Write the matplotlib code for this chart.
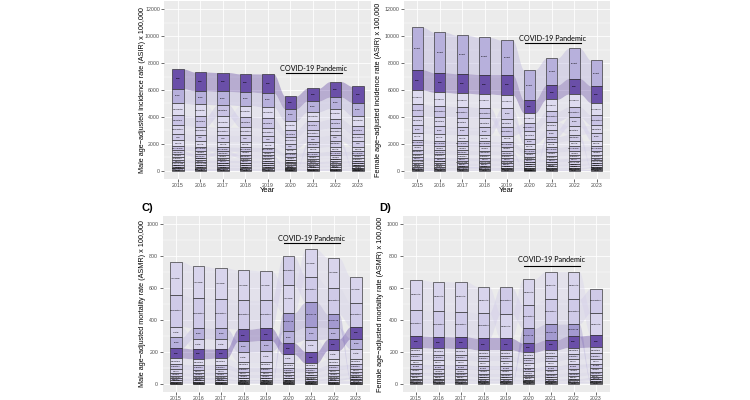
import matplotlib.pyplot as plt
import numpy as np
from matplotlib.ticker import MultipleLocator

plt.rcParams['font.family'] = ['Liberation Sans', 'DejaVu Sans']

years = [2015, 2016, 2017, 2018, 2019, 2020, 2021, 2022, 2023]

# --- A) male incidence ---
inc_male_names = ["Skin", "Lung", "Colorectal", "Digestive", "Respiratory", "Oral",
                  "Mental", "Musculosk.", "Injuries", "Infections", "Diabetes", "Neuro",
                  "Sense org.", "Urinary", "Cardio", "Substance", "Endocrine", "Other"]
inc_male = [
    [1450, 1400, 1400, 1350, 1400, 950, 950, 1150, 1200],
    [1080, 1000, 1000, 1000, 1050, 900, 800, 850, 1000],
    [900, 880, 800, 850, 830, 700, 700, 780, 700],
    [740, 760, 860, 760, 740, 520, 620, 660, 640],
    [620, 600, 590, 600, 590, 450, 500, 520, 500],
    [500, 490, 480, 480, 470, 380, 420, 430, 420],
    [420, 410, 400, 400, 390, 330, 350, 360, 350],
    [320, 310, 310, 300, 300, 260, 290, 300, 280],
    [250, 250, 240, 250, 240, 220, 230, 240, 230],
    [250, 240, 240, 240, 230, 40, 400, 420, 60],
    [200, 195, 190, 190, 185, 150, 170, 175, 170],
    [175, 170, 170, 165, 165, 140, 150, 160, 155],
    [170, 165, 160, 160, 160, 130, 140, 150, 145],
    [150, 145, 145, 140, 140, 120, 130, 135, 130],
    [125, 120, 120, 120, 115, 100, 110, 115, 110],
    [100, 95, 95, 95, 90, 80, 85, 90, 85],
    [60, 60, 55, 55, 55, 45, 50, 50, 50],
    [40, 40, 40, 40, 40, 35, 35, 35, 35],
]

# --- B) female incidence ---
inc_female_names = ["Breast", "Skin", "Gynaecol.", "Respiratory", "Digestive", "Lung",
                    "Mental", "Musculosk.", "Injuries", "Infections", "Diabetes", "Neuro",
                    "Sense org.", "Urinary", "Cardio", "Substance", "Endocrine", "Other"]
inc_female = [
    [3150, 3000, 2850, 2750, 2550, 2250, 2000, 2250, 1900],
    [1500, 1450, 1450, 1450, 1500, 950, 1050, 1150, 1250],
    [1050, 1000, 1000, 1000, 1000, 750, 900, 950, 900],
    [850, 830, 820, 800, 620, 600, 750, 770, 750],
    [700, 690, 680, 670, 620, 550, 600, 630, 600],
    [600, 590, 580, 570, 800, 420, 520, 650, 540],
    [480, 470, 460, 460, 450, 360, 400, 420, 410],
    [400, 390, 380, 380, 370, 300, 340, 360, 350],
    [330, 320, 320, 320, 310, 260, 290, 300, 290],
    [300, 290, 290, 280, 280, 40, 400, 450, 90],
    [260, 255, 250, 250, 245, 200, 225, 235, 225],
    [230, 225, 220, 220, 215, 180, 200, 210, 200],
    [200, 195, 190, 190, 185, 160, 175, 185, 175],
    [170, 165, 165, 160, 160, 140, 150, 160, 150],
    [150, 145, 145, 140, 140, 120, 130, 135, 130],
    [120, 115, 115, 115, 110, 95, 105, 110, 105],
    [90, 85, 85, 85, 85, 70, 75, 80, 75],
    [60, 60, 55, 55, 55, 45, 50, 50, 50],
]

# --- C) male mortality ---
mort_male_names = ["Ischemic", "Respiratory", "COVID-19", "Lung", "Cystic", "Skin",
                   "Digestive", "Diabetes", "Neuro", "Injuries", "Infections", "Urinary",
                   "Mental", "Endocrine", "Substance", "Other"]
mort_male = [
    [208, 200, 191, 189, 185, 175, 170, 185, 162],
    [198, 187, 187, 181, 173, 177, 160, 167, 150],
    [0, 0, 0, 0, 0, 114, 156, 83, 10],
    [66, 68, 68, 68, 68, 75, 78, 72, 64],
    [68, 63, 60, 62, 67, 52, 75, 55, 60],
    [63, 62, 58, 75, 77, 70, 72, 70, 75],
    [40, 38, 40, 35, 35, 33, 30, 38, 36],
    [30, 29, 30, 27, 27, 26, 24, 28, 28],
    [24, 23, 24, 20, 20, 20, 18, 22, 22],
    [18, 18, 18, 15, 15, 15, 15, 18, 17],
    [14, 14, 14, 12, 12, 12, 12, 14, 13],
    [12, 11, 11, 9, 9, 9, 10, 12, 11],
    [9, 9, 9, 7, 7, 7, 8, 9, 8],
    [7, 7, 7, 5, 5, 5, 6, 7, 6],
    [5, 5, 5, 4, 4, 4, 4, 5, 5],
    [3, 3, 3, 3, 3, 3, 3, 3, 3],
]

# --- D) female mortality ---
mort_female_names = ["Dementia", "Respiratory", "COVID-19", "Skin", "Digestive", "Diabetes",
                     "Neuro", "Breast", "Injuries", "Infections", "Urinary", "Mental",
                     "Endocrine", "Substance", "Other"]
mort_female = [
    [186, 185, 185, 165, 155, 163, 169, 173, 140],
    [165, 159, 159, 158, 165, 145, 159, 155, 150],
    [0, 0, 0, 0, 0, 92, 99, 75, 8],
    [72, 72, 72, 72, 72, 58, 62, 72, 75],
    [40, 40, 40, 38, 38, 36, 38, 38, 38],
    [35, 34, 34, 33, 33, 31, 33, 35, 34],
    [30, 30, 29, 29, 29, 27, 29, 31, 30],
    [28, 27, 27, 26, 26, 24, 26, 28, 27],
    [25, 24, 24, 23, 23, 21, 23, 25, 24],
    [20, 20, 19, 19, 19, 17, 19, 21, 20],
    [15, 15, 15, 14, 14, 13, 14, 16, 15],
    [12, 12, 12, 11, 11, 10, 11, 12, 12],
    [10, 10, 10, 9, 9, 8, 9, 10, 10],
    [7, 7, 7, 6, 6, 6, 6, 7, 7],
    [5, 5, 5, 5, 5, 4, 5, 5, 5],
]

DARK = '#6a4fa8'
MED = '#b7b0dc'
COV = '#a39ad0'
LIGHTS = ['#d8d4ec', '#cfcae8', '#dedbf0', '#c9c3e5']


def colors_for(names, dark="Skin", med=(), cov="COVID-19"):
    cols = []
    for k, n in enumerate(names):
        if n == dark:
            cols.append(DARK)
        elif n == cov:
            cols.append(COV)
        elif n in med:
            cols.append(MED)
        else:
            cols.append(LIGHTS[k % len(LIGHTS)])
    return cols


def alluvial(ax, names, values, cols, w=0.5):
    v = np.array(values, dtype=float)
    ncat, ny = v.shape
    bot = np.zeros_like(v)
    for j in range(ny):
        order = np.argsort(v[:, j], kind='stable')  # smallest at bottom
        acc = 0.0
        for i in order:
            bot[i, j] = acc
            acc += v[i, j]
    top = bot + v
    t = np.linspace(0, 1, 40)
    s = t * t * (3 - 2 * t)
    for i in range(ncat):
        for j in range(ny - 1):
            if v[i, j] == 0 and v[i, j + 1] == 0:
                continue
            x0 = years[j] + w / 2
            x1 = years[j + 1] - w / 2
            xs = x0 + (x1 - x0) * t
            yb = bot[i, j] + (bot[i, j + 1] - bot[i, j]) * s
            yt = top[i, j] + (top[i, j + 1] - top[i, j]) * s
            ax.fill_between(xs, yb, yt, color=cols[i], alpha=0.4, lw=0, zorder=2)
    cols = np.array(cols)
    for j in range(ny):
        keep = v[:, j] > 0
        ax.bar([years[j]] * keep.sum(), v[keep, j], bottom=bot[keep, j],
               width=w, color=cols[keep], edgecolor='#2a2a2a', linewidth=0.45,
               zorder=3)
        for i in np.where(keep)[0]:
            ax.text(years[j], bot[i, j] + v[i, j] / 2, names[i], fontsize=1.7,
                    ha='center', va='center', color='black', zorder=4)


def style(ax, ymax, step, minor):
    ax.set_facecolor('#EBEBEB')
    ax.set_axisbelow(True)
    for sp in ax.spines.values():
        sp.set_visible(False)
    ax.set_xlim(2014.4, 2023.6)
    ax.set_ylim(-0.05 * ymax, 1.05 * ymax)
    ax.set_xticks(years)
    ax.set_xticklabels([str(y) for y in years])
    ax.yaxis.set_major_locator(MultipleLocator(step))
    ax.yaxis.set_minor_locator(MultipleLocator(minor))
    ax.grid(which='major', color='white', lw=0.6)
    ax.grid(which='minor', axis='y', color='white', lw=0.3)
    ax.tick_params(which='major', length=2, width=0.5, color='#333333',
                   labelsize=3.8, labelcolor='#4d4d4d', pad=1.2)
    ax.tick_params(which='minor', length=0)


def covid(ax, yline, ytext):
    ax.plot([2019.78, 2022.3], [yline, yline], color='black', lw=0.8, zorder=5)
    ax.text(2021.04, ytext, "COVID-19 Pandemic", fontsize=5.2, family='Lato',
            ha='center', va='center', zorder=5)


fig = plt.figure(figsize=(7.5, 4), dpi=100)

axA = fig.add_axes([0.2193, 0.5525, 0.276, 0.445])
axB = fig.add_axes([0.5387, 0.5525, 0.2747, 0.445])
axC = fig.add_axes([0.2167, 0.02, 0.276, 0.44])
axD = fig.add_axes([0.5367, 0.02, 0.276, 0.44])

alluvial(axA, inc_male_names, inc_male, colors_for(inc_male_names, med=("Lung",)))
alluvial(axB, inc_female_names, inc_female, colors_for(inc_female_names, med=("Breast",)))
alluvial(axC, mort_male_names, mort_male, colors_for(mort_male_names, med=("Lung",)))
alluvial(axD, mort_female_names, mort_female, colors_for(mort_female_names))

style(axA, 12000, 2000, 1000)
style(axB, 12000, 2000, 1000)
style(axC, 1000, 200, 100)
style(axD, 1000, 200, 100)

covid(axA, 7260, 7580)
covid(axB, 9480, 9830)
covid(axC, 880, 912)
covid(axD, 740, 778)

lab = dict(fontsize=5.2, rotation=90, ha='center', va='center')
fig.text(142 / 750, 1 - 90 / 400, "Male age\u2212adjusted incidence rate (ASIR) x 100,000", **lab)
fig.text(379 / 750, 1 - 90 / 400, "Female age\u2212adjusted incidence rate (ASIR) x 100,000", **lab)
fig.text(143 / 750, 1 - 304 / 400, "Male age\u2212adjusted mortality rate (ASMR) x 100,000", **lab)
fig.text(380 / 750, 1 - 304 / 400, "Female age\u2212adjusted mortality rate (ASMR) x 100,000", **lab)

fig.text(268 / 750, 1 - 191 / 400, "Year", fontsize=5.5, ha='center', va='center')
fig.text(507 / 750, 1 - 191 / 400, "Year", fontsize=5.5, ha='center', va='center')

fig.text(142 / 750, 1 - 208 / 400, "C)", fontsize=8, fontweight='bold', va='center')
fig.text(379 / 750, 1 - 208 / 400, "D)", fontsize=8, fontweight='bold', va='center')

fig.savefig('out.png', dpi=100)
